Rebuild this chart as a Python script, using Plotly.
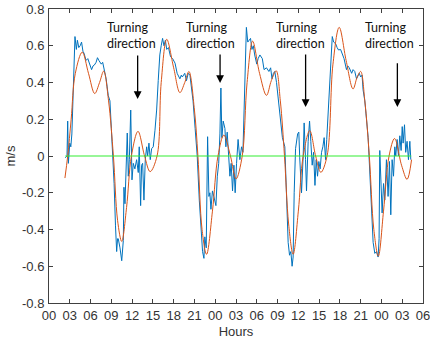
import plotly.graph_objects as go

# ---- data (hours since 00 of day 1) ----
measured_h = [2.35, 2.6, 2.7, 2.8, 3.0, 3.15, 3.3, 3.5, 3.75, 3.95, 4.1, 4.3, 4.5, 4.7, 4.9, 5.05, 5.35, 5.6, 5.85,
              6.15, 6.35, 6.55, 6.8, 7.0, 7.2, 7.35, 7.55, 7.75, 8.0, 8.25, 8.55, 8.8, 9.0, 9.2, 9.4, 9.6,
              9.77, 9.9, 10.0, 10.25, 10.5, 10.73, 10.82, 10.97, 11.1, 11.3, 11.45, 11.6, 11.8, 11.98, 12.17,
              12.4, 12.65, 12.89, 13.03, 13.23, 13.37, 13.52, 13.71, 13.9, 14.1, 14.24, 14.43, 14.62, 14.82,
              15.05, 15.3, 15.54, 15.77, 16.0, 16.2, 16.4, 16.6, 16.8, 17.0, 17.25, 17.55, 17.85, 18.2, 18.5,
              18.9, 19.1, 19.25, 19.6, 19.85, 20.1, 20.35, 20.6, 20.8, 21.1, 21.4, 21.7, 22.03, 22.17, 22.37,
              22.5, 22.7, 22.9, 23.09, 23.23, 23.38, 23.6, 23.8, 24.1, 24.3, 24.5, 24.68, 24.82, 24.96, 25.15,
              25.4, 25.54, 25.73, 25.93, 26.12, 26.3, 26.5, 26.7, 26.88, 27.08, 27.3, 27.56, 27.8, 28.0, 28.15,
              28.35, 28.5, 28.7, 28.9, 29.1, 29.3, 29.5, 29.7, 30.0, 30.2, 30.45, 30.8, 31.05, 31.4, 31.75,
              32.0, 32.2, 32.4, 32.6, 32.85, 33.1, 33.4, 33.7, 34.05, 34.3, 34.53, 34.73, 34.92, 35.1, 35.25,
              35.4, 35.6, 35.9, 36.07, 36.2, 36.46, 36.7, 36.84, 37.04, 37.18, 37.42, 37.62, 37.8, 38.0, 38.2,
              38.4, 38.58, 38.77, 38.96, 39.15, 39.35, 39.54, 39.73, 39.93, 40.1, 40.3, 40.55, 40.75, 40.9,
              41.1, 41.4, 41.6, 41.8, 42.1, 42.4, 42.6, 42.95, 43.15, 43.35, 43.7, 43.9, 44.15, 44.4, 44.6,
              44.8, 45.0, 45.2, 45.35, 45.6, 46.08, 46.46, 46.8, 47.04, 47.28, 47.52, 47.66, 47.76, 47.9, 48.1,
              48.3, 48.48, 48.72, 48.96, 49.16, 49.35, 49.54, 49.74, 49.93, 50.07, 50.26, 50.46, 50.65, 50.84,
              51.0, 51.13, 51.33, 51.5, 51.7, 51.9, 52.1, 52.24]
measured_v = [-0.01, 0.0, 0.19, -0.04, 0.07, 0.05, 0.12, 0.40, 0.65, 0.58, 0.63, 0.59, 0.60, 0.62, 0.57, 0.56, 0.52, 0.53, 0.50,
              0.47, 0.49, 0.495, 0.51, 0.535, 0.52, 0.51, 0.50, 0.51, 0.47, 0.42, 0.33, 0.30, 0.15, 0.02, -0.15, -0.38,
              -0.52, -0.45, -0.45, -0.50, -0.57, -0.46, -0.17, -0.26, -0.04, 0.125, -0.11, -0.02, 0.25, -0.13, -0.04,
              -0.07, -0.02, -0.09, 0.05, -0.27, -0.05, -0.04, -0.24, -0.02, 0.05, 0.0, 0.07, -0.02, 0.04,
              0.05, 0.14, 0.25, 0.41, 0.55, 0.60, 0.64, 0.60, 0.63, 0.58, 0.59, 0.54, 0.53, 0.505, 0.45,
              0.42, 0.44, 0.43, 0.45, 0.41, 0.45, 0.44, 0.35, 0.30, 0.15, 0.0, -0.24, -0.47, -0.52, -0.557,
              -0.44, -0.50, 0.105, -0.22, -0.20, -0.29, -0.19, -0.22, -0.27, -0.11, -0.04, 0.12, 0.37, 0.10, 0.19,
              0.15, 0.05, 0.13, 0.0, -0.11, -0.04, -0.19, -0.05, -0.20, -0.04, 0.09, -0.02, 0.05, 0.02, 0.25,
              0.55, 0.70, 0.62, 0.63, 0.64, 0.58, 0.60, 0.55, 0.50, 0.53, 0.55, 0.53, 0.47, 0.48, 0.46,
              0.48, 0.42, 0.45, 0.46, 0.40, 0.32, 0.22, 0.10, 0.05, -0.22, -0.47, -0.54, -0.52, -0.60, -0.55,
              -0.20, 0.04, 0.12, 0.13, -0.01, -0.20, 0.0, 0.18, -0.02, -0.19, 0.08, 0.19, 0.08, -0.05, 0.02,
              -0.16, -0.02, -0.11, -0.03, -0.07, 0.02, 0.05, 0.10, -0.02, 0.09, 0.23, 0.42, 0.58, 0.65,
              0.62, 0.61, 0.59, 0.577, 0.58, 0.55, 0.53, 0.47, 0.49, 0.48, 0.45, 0.47, 0.46, 0.42, 0.44,
              0.45, 0.43, 0.44, 0.36, 0.30, 0.10, -0.22, -0.47, -0.53, -0.52, -0.55, -0.45, 0.03, -0.13, -0.31,
              -0.15, -0.24, -0.02, -0.22, -0.03, -0.32, -0.02, -0.11, 0.05, 0.0, 0.09, 0.0, 0.11, 0.03,
              0.16, 0.07, 0.17, 0.02, 0.08, -0.02, 0.08, -0.02]

model_h = [2.3, 2.7, 3.2, 3.8, 4.8, 5.7, 6.6, 7.3, 7.9, 8.6, 9.3, 9.9, 10.5, 11.2, 11.9, 12.85, 13.8, 14.6,
           15.6, 16.2, 17.0, 18.0, 18.9, 19.6, 20.2, 21.0, 21.5, 22.1, 22.75, 23.6, 24.4, 25.25, 26.2, 27.0,
           27.9, 28.6, 29.4, 30.4, 31.4, 32.1, 32.8, 33.4, 34.0, 34.6, 35.25, 36.0, 36.7, 37.65, 38.5, 39.25,
           40.15, 41.0, 41.9, 42.9, 43.9, 44.5, 45.0, 45.6, 46.25, 46.9, 47.55, 48.3, 49.1, 49.9, 50.9, 51.7, 52.35]
model_v = [-0.12, 0.0, 0.2, 0.45, 0.565, 0.45, 0.34, 0.40, 0.462, 0.3, 0.0, -0.35, -0.465, -0.28, 0.0, 0.134, 0.0, -0.085,
           0.0, 0.4, 0.635, 0.48, 0.345, 0.40, 0.46, 0.25, 0.0, -0.4, -0.535, -0.3, 0.0, 0.114, 0.0, -0.125,
           0.0, 0.4, 0.625, 0.45, 0.33, 0.41, 0.464, 0.3, 0.0, -0.37, -0.535, -0.3, 0.0, 0.138, 0.0, -0.089,
           0.0, 0.5, 0.70, 0.52, 0.365, 0.43, 0.46, 0.3, 0.0, -0.4, -0.545, -0.3, 0.0, 0.095, -0.05, -0.127, -0.02]

zero_h = [2.35, 52.3]
zero_v = [0, 0]

tick_hours = list(range(0, 55, 3))
tick_labels = ["00", "03", "06", "09", "12", "15", "18", "21", "00", "03", "06", "09", "12", "15", "18", "21", "00", "03", "06"]
y_ticks = [-0.8, -0.6, -0.4, -0.2, 0, 0.2, 0.4, 0.6, 0.8]
y_labels = ["-0.8", "-0.6", "-0.4", "-0.2", "0", "0.2", "0.4", "0.6", "0.8"]

# annotation: text x (left), arrow x, arrow top, arrow tip
note_text_x = [8.1, 19.5, 32.5, 45.3]
arrow_x = [12.8, 24.7, 37.05, 50.3]
arrow_top = [0.555, 0.56, 0.56, 0.513]
arrow_tip = [0.31, 0.397, 0.267, 0.267]

fig = go.Figure()
fig.add_trace(go.Scatter(x=measured_h, y=measured_v, mode="lines",
                         line=dict(color="#0072BD", width=1.0), showlegend=False))
fig.add_trace(go.Scatter(x=model_h, y=model_v, mode="lines",
                         line=dict(color="#D95319", width=1.0, shape="spline", smoothing=1.0), showlegend=False))
fig.add_trace(go.Scatter(x=zero_h, y=zero_v, mode="lines",
                         line=dict(color="#33ee33", width=1.2), showlegend=False))

for tx, axx, at, ap in zip(note_text_x, arrow_x, arrow_top, arrow_tip):
    fig.add_annotation(x=tx, y=0.658, xref="x", yref="y", text="Turning<br>direction",
                       showarrow=False, xanchor="left", yanchor="middle", align="left",
                       font=dict(family="Lato", size=12.5, color="#111111"))
    fig.add_annotation(x=axx, y=ap, ax=axx, ay=at, xref="x", yref="y", axref="x", ayref="y",
                       text="", showarrow=True, arrowhead=2, arrowsize=1.2, arrowwidth=1.3,
                       arrowcolor="#000000")

axis_col = "#404040"
fig.update_layout(
    width=430, height=345,
    margin=dict(l=49, r=7, t=9, b=42, autoexpand=False),
    paper_bgcolor="white", plot_bgcolor="white",
    font=dict(family="Liberation Sans, Arial", size=13, color="#333333"),
)
fig.update_xaxes(range=[0, 54], tickvals=tick_hours, ticktext=tick_labels,
                 showgrid=False, zeroline=False, showline=True, linecolor=axis_col, linewidth=1,
                 mirror="ticks", ticks="inside", ticklen=4, tickcolor=axis_col, ticklabelstandoff=0,
                 ticklabeloverflow="allow",
                 title=dict(text="Hours", standoff=5, font=dict(size=13)), automargin=False)
fig.update_yaxes(range=[-0.8, 0.8], tickvals=y_ticks, ticktext=y_labels,
                 showgrid=False, zeroline=False, showline=True, linecolor=axis_col, linewidth=1,
                 mirror="ticks", ticks="inside", ticklen=4, tickcolor=axis_col, ticklabelstandoff=1,
                 title=dict(text="m/s", standoff=3, font=dict(size=13)), automargin=False)

fig.write_html("out.html")
